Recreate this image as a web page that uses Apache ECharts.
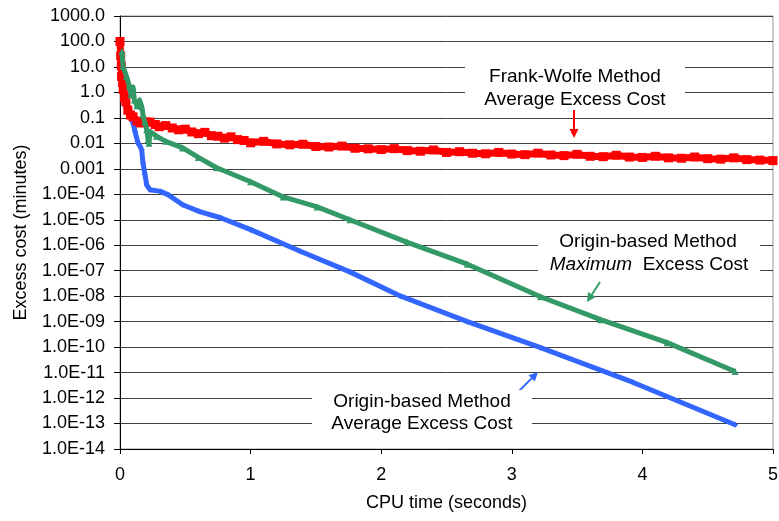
<!DOCTYPE html>
<html>
<head>
<meta charset="utf-8">
<script src="https://cdn.jsdelivr.net/npm/echarts@6/dist/echarts.min.js"></script>
<style>
  html, body { margin: 0; padding: 0; background: #fff; }
  #chart { width: 779px; height: 521px; }
</style>
</head>
<body>
<div id="chart"></div>
<script>
// Frank-Wolfe method, average excess cost (minutes) vs CPU time (s)
const fwTime = [0, 0.005, 0.01, 0.012, 0.02, 0.025, 0.035, 0.045, 0.06, 0.08, 0.1, 0.13, 0.155, 0.2, 0.23, 0.27, 0.3, 0.35, 0.4, 0.45, 0.5, 0.55, 0.6, 0.65, 0.7, 0.75, 0.8, 0.85, 0.9, 0.95,
  1.0, 1.1, 1.2, 1.3, 1.4, 1.5, 1.6, 1.7, 1.8, 1.9, 2.0, 2.1, 2.2, 2.3, 2.4, 2.5, 2.6, 2.7, 2.8, 2.9,
  3.0, 3.1, 3.2, 3.3, 3.4, 3.5, 3.6, 3.7, 3.8, 3.9, 4.0, 4.1, 4.2, 4.3, 4.4, 4.5, 4.6, 4.7, 4.8, 4.9, 5.0];
const fwCost = [100, 27, 11, 4.2, 2.4, 1.3, 0.6, 0.44, 0.2, 0.13, 0.11, 0.075, 0.063, 0.07, 0.068, 0.055, 0.045, 0.05, 0.04, 0.034, 0.036, 0.028, 0.024, 0.027, 0.02, 0.019, 0.016, 0.018, 0.014, 0.013,
  0.0105, 0.012, 0.0095, 0.0088, 0.0092, 0.0075, 0.0072, 0.0078, 0.0064, 0.0061, 0.0057, 0.0062, 0.0052, 0.0049, 0.0055, 0.0044, 0.0047, 0.0041, 0.0039, 0.0044,
  0.0038, 0.0036, 0.0041, 0.0035, 0.0033, 0.0037, 0.0031, 0.0030, 0.0034, 0.0029, 0.0028, 0.0031, 0.0027, 0.0026, 0.0029, 0.0025, 0.0024, 0.0027, 0.0023, 0.0022, 0.0021];

// Origin-based method, maximum excess cost
const obMaxTime = [0.015, 0.023, 0.05, 0.07, 0.085, 0.1, 0.11, 0.13, 0.15, 0.166, 0.176, 0.19, 0.205, 0.215, 0.222, 0.23, 0.28, 0.35, 0.48, 0.6, 0.74,
  1.0, 1.25, 1.51, 1.76, 2.2, 2.66, 3.22, 3.68, 4.19, 4.71];
const obMaxCost = [40, 10.5, 4.2, 1.9, 0.8, 1.6, 0.5, 0.3, 0.5, 0.28, 0.13, 0.07, 0.034, 0.014, 0.01, 0.029, 0.019, 0.012, 0.0066, 0.0028, 0.0011,
  3.1e-4, 7.9e-5, 3.2e-5, 1.0e-5, 1.3e-6, 1.8e-7, 9.5e-9, 1.2e-9, 1.5e-10, 1.1e-11];

// Origin-based method, average excess cost
const obAvgTime = [0.02, 0.04, 0.077, 0.1, 0.115, 0.138, 0.155, 0.166, 0.176, 0.19, 0.205, 0.23, 0.31, 0.37, 0.48, 0.61, 0.77,
  1.0, 1.38, 1.76, 2.15, 2.66, 3.22, 3.93, 4.71];
const obAvgCost = [0.7, 0.28, 0.11, 0.063, 0.029, 0.0102, 0.0074, 0.0056, 0.0017, 6.3e-4, 2.3e-4, 1.5e-4, 1.3e-4, 9.5e-5, 3.9e-5, 2.1e-5, 1.2e-5,
  4.1e-6, 5.8e-7, 9.0e-8, 1.0e-8, 1.0e-9, 9.5e-11, 4.1e-12, 9.0e-14];

// Axis ticks
const xTicks = [0, 1, 2, 3, 4, 5];
const costMin = 1e-14;
const costMax = 1000;

const FONT = '"Liberation Sans", Arial, sans-serif';
const RED = '#ff0000';
const GREEN = '#339966';
const BLUE = '#3366ff';

function pairs(xs, ys) { return xs.map((x, i) => [x, ys[i]]); }

function fmtCost(v) {
  const e = Math.round(Math.log10(v));
  if (e >= 0) return Math.pow(10, e).toFixed(1);
  if (e >= -3) return Math.pow(10, e).toFixed(-e);
  return '1.0E-' + String(-e).padStart(2, '0');
}

// Callout arrow: shaft plus a filled head at (x2, y2)
function arrow(x1, y1, x2, y2, color) {
  const a = Math.atan2(y2 - y1, x2 - x1);
  const L = 9, W = 4.5;
  const bx = x2 - L * Math.cos(a), by = y2 - L * Math.sin(a);
  return [
    { type: 'line', z: 100, shape: { x1: x1, y1: y1, x2: bx, y2: by }, style: { stroke: color, lineWidth: 2 } },
    { type: 'polygon', z: 100, shape: { points: [[x2, y2], [bx + W * Math.sin(a), by - W * Math.cos(a)], [bx - W * Math.sin(a), by + W * Math.cos(a)]] }, style: { fill: color } }
  ];
}

function label(x, y, text, rich) {
  return { type: 'text', z: 102, style: { x: x, y: y, text: text, align: 'center', verticalAlign: 'middle', font: '19px ' + FONT, fill: '#000', rich: rich } };
}
function whiteBox(x, y, w, h) {
  return { type: 'rect', z: 101, shape: { x: x, y: y, width: w, height: h }, style: { fill: '#fff' } };
}

const chart = echarts.init(document.getElementById('chart'), null, { renderer: 'canvas' });

chart.setOption({
  backgroundColor: '#fff',
  animation: false,
  grid: { left: 120, right: 6, top: 16, bottom: 72, show: true, borderColor: '#999', borderWidth: 1, outerBoundsMode: 'none' },
  xAxis: {
    type: 'value', min: xTicks[0], max: xTicks[xTicks.length - 1], interval: 1,
    name: 'CPU time (seconds)', nameLocation: 'middle', nameGap: 45,
    nameTextStyle: { fontFamily: FONT, fontSize: 18, color: '#000' },
    axisLine: { lineStyle: { color: '#000', width: 1 } },
    axisTick: { show: true, length: 5, lineStyle: { color: '#000' } },
    axisLabel: { fontFamily: FONT, fontSize: 18, color: '#000', margin: 17 },
    splitLine: { show: false }
  },
  yAxis: {
    type: 'log', logBase: 10, min: costMin, max: costMax, interval: 1,
    name: 'Excess cost (minutes)', nameLocation: 'middle', nameGap: 90,
    nameTextStyle: { fontFamily: FONT, fontSize: 18, color: '#000' },
    axisLine: { show: true, lineStyle: { color: '#000', width: 1 } },
    axisTick: { show: true, length: 6, lineStyle: { color: '#000' } },
    axisLabel: { fontFamily: FONT, fontSize: 18, color: '#000', margin: 15, formatter: fmtCost },
    splitLine: { show: true, lineStyle: { color: '#404040', width: 1 } },
    minorTick: { show: false }
  },
  series: [
    {
      name: 'Origin-based Method Average Excess Cost', type: 'line', data: pairs(obAvgTime, obAvgCost),
      symbol: 'diamond', symbolSize: 6, showSymbol: true,
      itemStyle: { color: BLUE }, lineStyle: { color: BLUE, width: 5, join: 'round' }, z: 2
    },
    {
      name: 'Frank-Wolfe Method Average Excess Cost', type: 'line', data: pairs(fwTime, fwCost),
      symbol: 'rect', symbolSize: 9, showSymbol: true,
      itemStyle: { color: RED }, lineStyle: { color: RED, width: 7 }, z: 3
    },
    {
      name: 'Origin-based Method Maximum Excess Cost', type: 'line', data: pairs(obMaxTime, obMaxCost),
      symbol: 'triangle', symbolSize: 7, showSymbol: true,
      itemStyle: { color: GREEN }, lineStyle: { color: GREEN, width: 5, join: 'round' }, z: 4
    }
  ],
  graphic: [
    whiteBox(465, 57, 220, 52),
    label(575, 77, 'Frank-Wolfe Method'),
    label(575, 100, 'Average Excess Cost'),
    ...arrow(574, 110, 574, 138, RED),

    whiteBox(538, 232, 222, 48),
    label(648, 242, 'Origin-based Method'),
    label(649, 265, '{i|Maximum}  Excess Cost', { i: { fontStyle: 'italic', font: 'italic 19px ' + FONT } }),
    ...arrow(600, 282, 587, 302, GREEN),

    whiteBox(312, 390, 220, 46),
    label(422, 402, 'Origin-based Method'),
    label(422, 424, 'Average Excess Cost'),
    ...arrow(515, 395, 538, 372, BLUE)
  ]
});
</script>
</body>
</html>
